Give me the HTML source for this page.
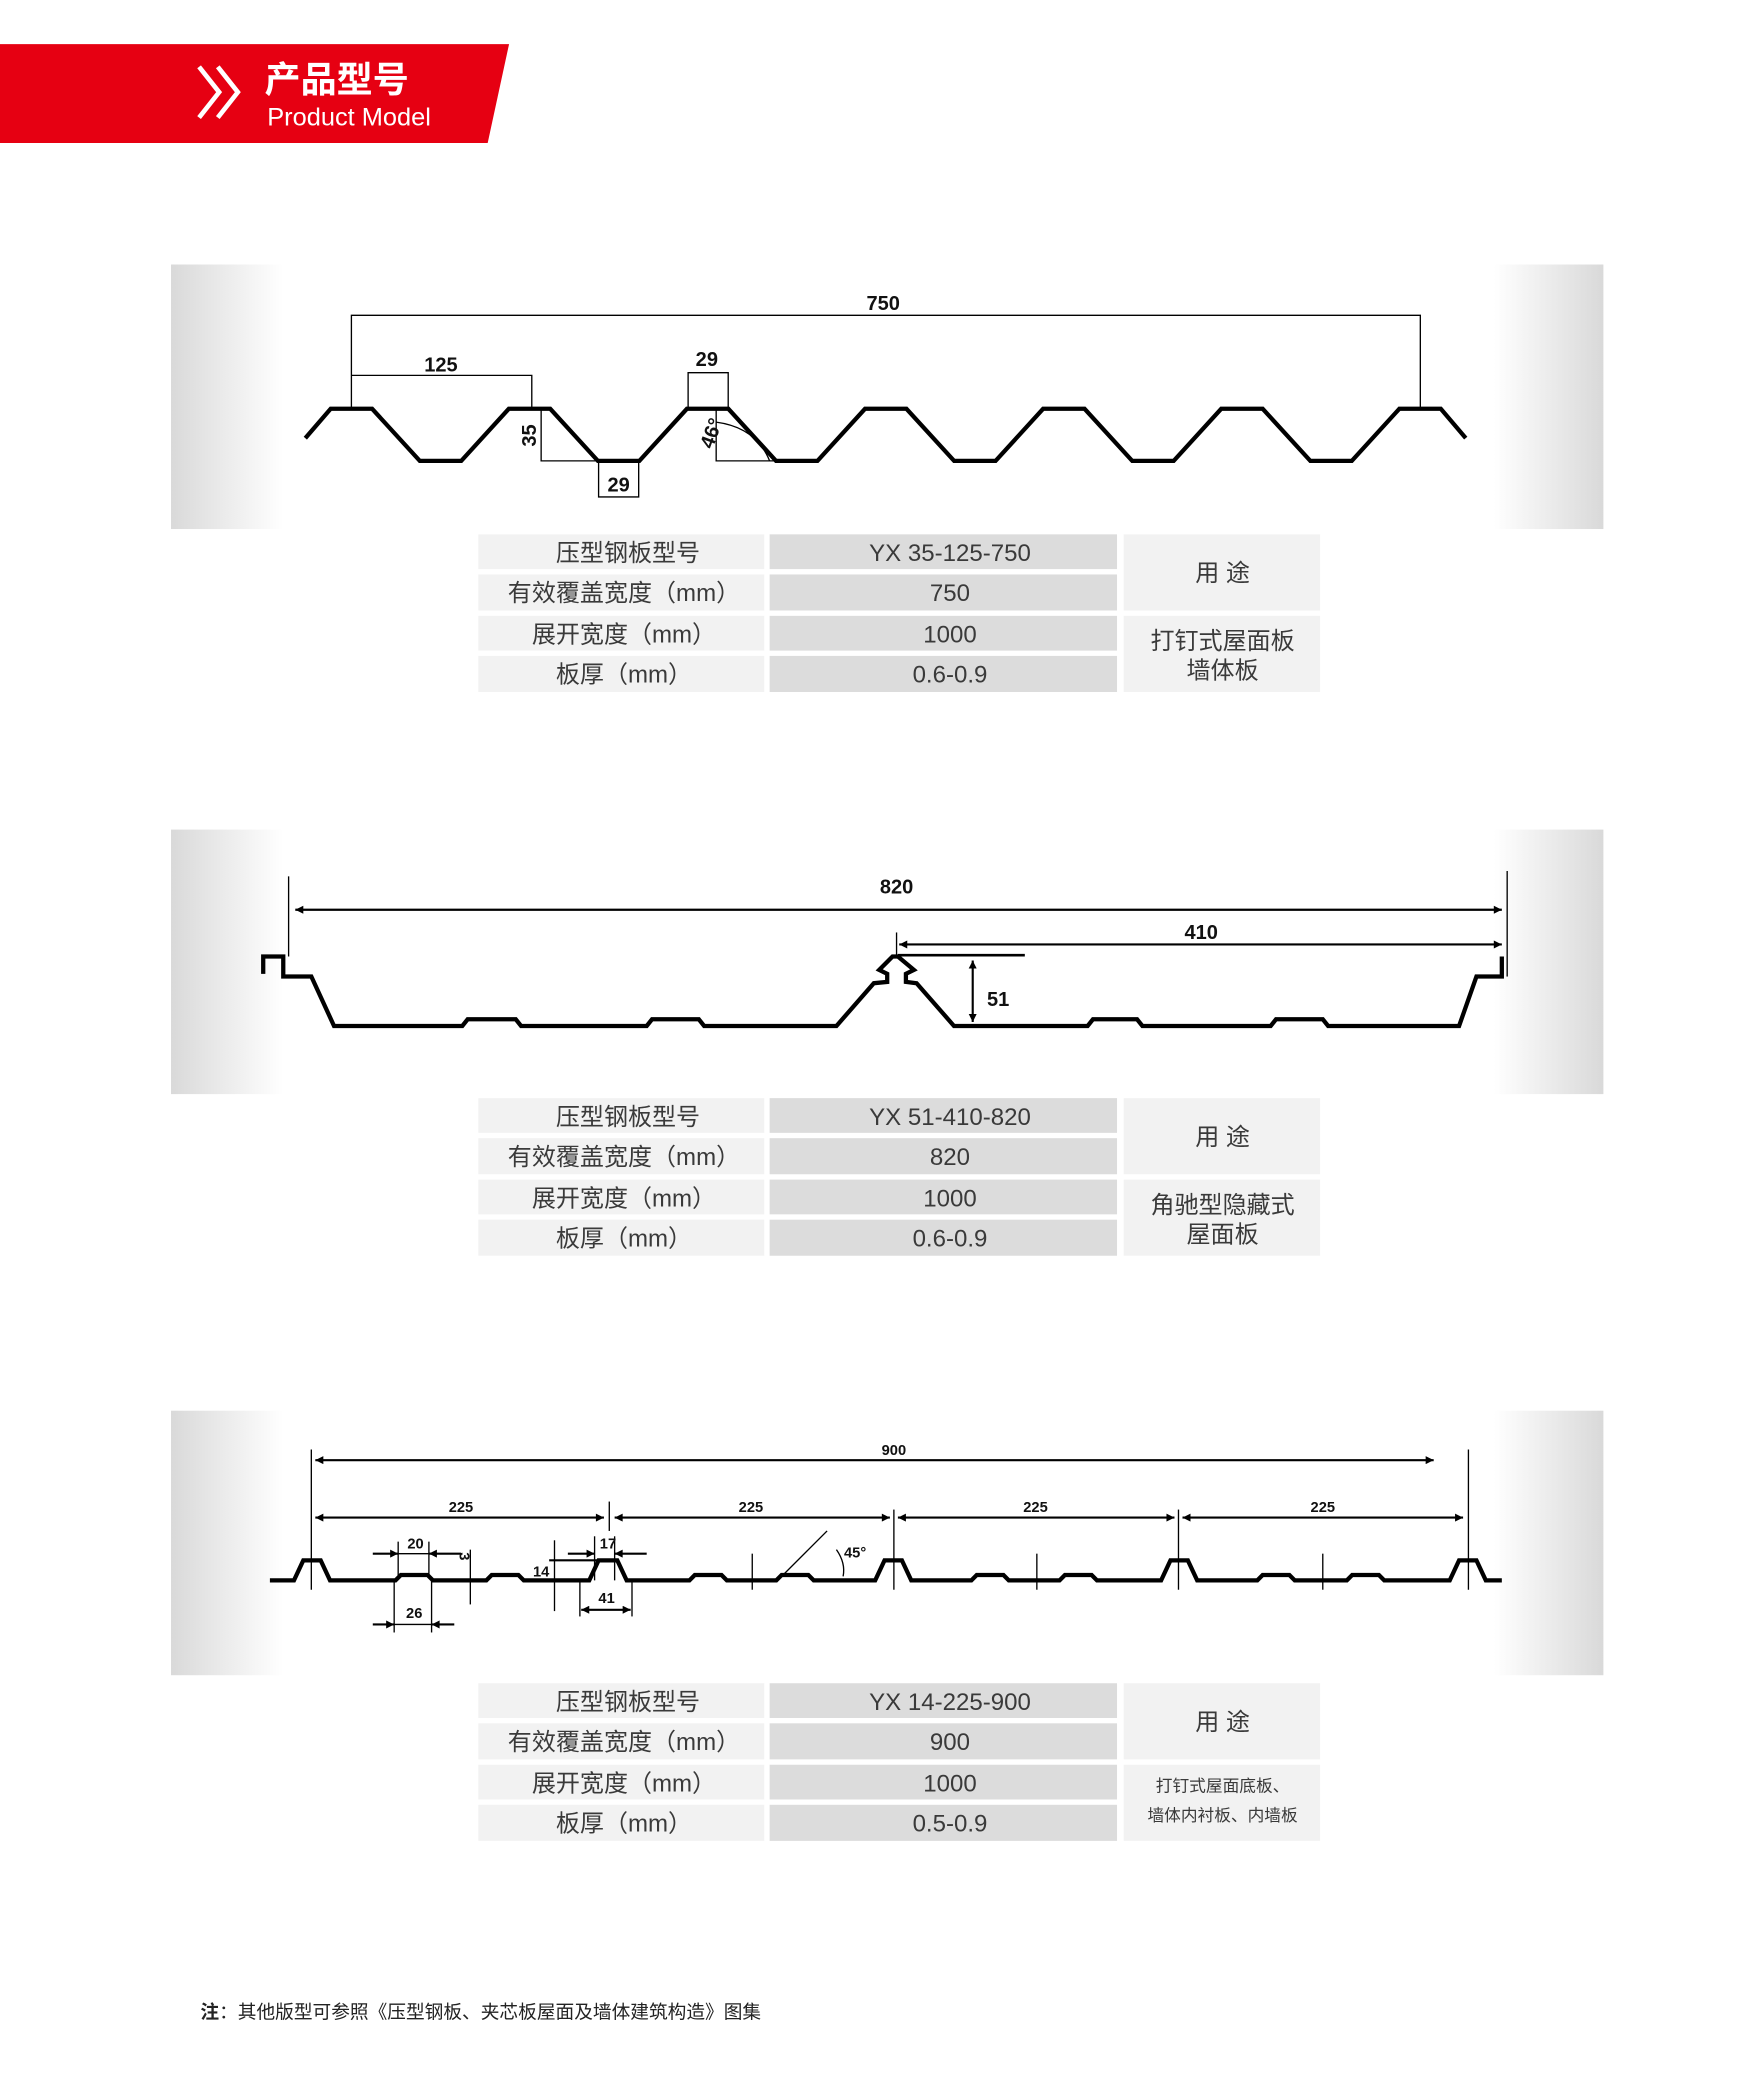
<!DOCTYPE html>
<html><head><meta charset="utf-8"><style>
html,body{margin:0;padding:0;background:#fff;}
svg{display:block;}
text{font-family:"Liberation Sans","Noto Sans CJK SC",sans-serif;}
.t{font-size:18px;fill:#3a3a3a;text-anchor:middle;}
.d{font-size:15px;fill:#111;text-anchor:middle;font-weight:bold;}
.s{font-size:11px;fill:#111;text-anchor:middle;font-weight:bold;}
.p{fill:none;stroke:#000;stroke-width:3.2;stroke-linejoin:miter;}
.l{fill:none;stroke:#000;stroke-width:1;}
.a{fill:none;stroke:#000;stroke-width:1.6;}
</style></head><body>
<svg width="1741" height="2080" viewBox="0 0 1303 1557" preserveAspectRatio="none" xmlns="http://www.w3.org/2000/svg">
<defs>
<marker id="ar" viewBox="0 0 10 10" refX="10" refY="5" markerWidth="7" markerHeight="6" orient="auto-start-reverse" markerUnits="userSpaceOnUse"><path d="M0,0 L10,5 L0,10 z" fill="#000"/></marker>
<linearGradient id="gl" x1="0" x2="1" y1="0" y2="0"><stop offset="0" stop-color="#d9d9d9"/><stop offset="1" stop-color="#fff"/></linearGradient>
<linearGradient id="gr" x1="0" x2="1" y1="0" y2="0"><stop offset="0" stop-color="#fff"/><stop offset="1" stop-color="#d9d9d9"/></linearGradient>
</defs>
<polygon points="0,33 381,33 365,107 0,107" fill="#e60012"/>
<polyline points="149,50 164,69 149,88" fill="none" stroke="#fff" stroke-width="3.5"/>
<polyline points="163,50 178,69 163,88" fill="none" stroke="#fff" stroke-width="3.5"/>
<text x="198" y="69" font-size="27" fill="#fff" font-weight="bold">产品型号</text>
<text x="200" y="94" font-size="19" fill="#fff">Product Model</text>

<g>
<rect x="128" y="198" width="84" height="198" fill="url(#gl)"/><rect x="1118" y="198" width="82" height="198" fill="url(#gr)"/>
<rect x="128" y="621" width="84" height="198" fill="url(#gl)"/><rect x="1118" y="621" width="82" height="198" fill="url(#gr)"/>
<rect x="128" y="1056" width="84" height="198" fill="url(#gl)"/><rect x="1118" y="1056" width="82" height="198" fill="url(#gr)"/>
</g>

<polyline class="p" points="228.5,328 247.5,306 278.5,306 314.2,345 345.2,345 380.8,306 411.8,306 447.5,345 478.5,345 514.1,306 545.1,306 580.8,345 611.8,345 647.4,306 678.4,306 714.1,345 745.1,345 780.7,306 811.7,306 847.4,345 878.4,345 914,306 945,306 980.7,345 1011.7,345 1047.3,306 1078.3,306 1097,328"/>
<polyline class="l" points="263,306 263,236 1063,236 1063,306"/>
<text class="d" x="661" y="232">750</text>
<polyline class="l" points="263,281 398,281 398,306"/>
<text class="d" x="330" y="278">125</text>
<polyline class="l" points="405,306 405,345 448,345"/>
<text class="d" x="0" y="0" transform="translate(401,326) rotate(-90)">35</text>
<polyline class="l" points="448,345 448,372 478,372 478,345"/>
<text class="d" x="463" y="368">29</text>
<polyline class="l" points="515,306 515,279 545,279 545,306"/>
<text class="d" x="529" y="274">29</text>
<polyline class="l" points="536,306 536,345 580,345"/>
<path class="l" d="M536,316 Q566,320 576,345"/>
<text class="d" x="0" y="0" transform="translate(537,326) rotate(-70)">46°</text>

<g>
<rect x="358" y="400" width="214" height="26" fill="#f2f2f2"/><rect x="576" y="400" width="260" height="26" fill="#dcdcdc"/>
<rect x="358" y="430" width="214" height="27" fill="#f2f2f2"/><rect x="576" y="430" width="260" height="27" fill="#dcdcdc"/>
<rect x="358" y="461" width="214" height="26" fill="#f2f2f2"/><rect x="576" y="461" width="260" height="26" fill="#dcdcdc"/>
<rect x="358" y="491" width="214" height="27" fill="#f2f2f2"/><rect x="576" y="491" width="260" height="27" fill="#dcdcdc"/>
<rect x="841" y="400" width="147" height="57" fill="#f2f2f2"/><rect x="841" y="461" width="147" height="57" fill="#f2f2f2"/>
<text class="t" x="470" y="420">压型钢板型号</text><text class="t" x="711" y="420">YX 35-125-750</text>
<text class="t" x="467" y="450">有效覆盖宽度（mm）</text><text class="t" x="711" y="450">750</text>
<text class="t" x="467" y="481">展开宽度（mm）</text><text class="t" x="711" y="481">1000</text>
<text class="t" x="467" y="511">板厚（mm）</text><text class="t" x="711" y="511">0.6-0.9</text>
<text class="t" x="915" y="435">用 途</text>
<text class="t" x="915" y="486">打钉式屋面板</text><text class="t" x="915" y="508">墙体板</text>
</g>

<polyline class="p" points="197,729 197,716 212,716 212,731 233,731 250,768 346,768 350,763 386,763 390,768 484,768 488,763 523,763 527,768 626,768 654,736 664,735 664,729 658,726 668,716 672,716 684,726 678,729 678,735 686,736 714,768 814,768 818,763 851,763 855,768 951,768 955,763 990,763 994,768 1092,768 1105,731 1124,731 1124,716"/>
<line class="l" x1="216" y1="656" x2="216" y2="716"/>
<line class="l" x1="1128" y1="652" x2="1128" y2="731" stroke-width="1.5"/>
<line class="a" x1="221" y1="681" x2="1124" y2="681" marker-start="url(#ar)" marker-end="url(#ar)"/>
<text class="d" x="671" y="669">820</text>
<line class="a" x1="673" y1="707" x2="1124" y2="707" marker-start="url(#ar)" marker-end="url(#ar)"/>
<line class="l" x1="671" y1="698" x2="671" y2="716"/>
<text class="d" x="899" y="703">410</text>
<line x1="672" y1="715" x2="767" y2="715" stroke="#000" stroke-width="2"/>
<line class="a" x1="728" y1="719" x2="728" y2="765" marker-start="url(#ar)" marker-end="url(#ar)"/>
<text class="d" x="747" y="753">51</text>

<g transform="translate(0,422)">
<rect x="358" y="400" width="214" height="26" fill="#f2f2f2"/><rect x="576" y="400" width="260" height="26" fill="#dcdcdc"/>
<rect x="358" y="430" width="214" height="27" fill="#f2f2f2"/><rect x="576" y="430" width="260" height="27" fill="#dcdcdc"/>
<rect x="358" y="461" width="214" height="26" fill="#f2f2f2"/><rect x="576" y="461" width="260" height="26" fill="#dcdcdc"/>
<rect x="358" y="491" width="214" height="27" fill="#f2f2f2"/><rect x="576" y="491" width="260" height="27" fill="#dcdcdc"/>
<rect x="841" y="400" width="147" height="57" fill="#f2f2f2"/><rect x="841" y="461" width="147" height="57" fill="#f2f2f2"/>
<text class="t" x="470" y="420">压型钢板型号</text><text class="t" x="711" y="420">YX 51-410-820</text>
<text class="t" x="467" y="450">有效覆盖宽度（mm）</text><text class="t" x="711" y="450">820</text>
<text class="t" x="467" y="481">展开宽度（mm）</text><text class="t" x="711" y="481">1000</text>
<text class="t" x="467" y="511">板厚（mm）</text><text class="t" x="711" y="511">0.6-0.9</text>
<text class="t" x="915" y="435">用 途</text>
<text class="t" x="915" y="486">角驰型隐藏式</text><text class="t" x="915" y="508">屋面板</text>
</g>

<polyline class="p" stroke-width="2.6" points="202,1183 220,1183 227,1168 240,1168 247,1183 296,1183 300,1179 320,1179 324,1183 364,1183 368,1179 388,1179 392,1183 441,1183 448,1168 462,1168 469,1183 516,1183 520,1179 540,1179 544,1183 581,1183 585,1179 605,1179 609,1183 655,1183 662,1168 675,1168 682,1183 727,1183 731,1179 751,1179 755,1183 793,1183 797,1179 817,1179 821,1183 869,1183 876,1168 889,1168 896,1183 941,1183 945,1179 965,1179 969,1183 1008,1183 1012,1179 1032,1179 1036,1183 1085,1183 1092,1168 1105,1168 1112,1183 1124,1183"/>
<line class="l" x1="233" y1="1085" x2="233" y2="1190"/>
<line class="l" x1="1099" y1="1085" x2="1099" y2="1190"/>
<line class="a" x1="236" y1="1093" x2="1073" y2="1093" marker-start="url(#ar)" marker-end="url(#ar)"/>
<text class="s" x="669" y="1089">900</text>
<line class="l" x1="456" y1="1124" x2="456" y2="1146"/>
<line class="l" x1="669" y1="1130" x2="669" y2="1190"/>
<line class="l" x1="882" y1="1130" x2="882" y2="1190"/>
<line class="a" x1="236" y1="1136" x2="452" y2="1136" marker-start="url(#ar)" marker-end="url(#ar)"/>
<line class="a" x1="460" y1="1136" x2="666" y2="1136" marker-start="url(#ar)" marker-end="url(#ar)"/>
<line class="a" x1="672" y1="1136" x2="879" y2="1136" marker-start="url(#ar)" marker-end="url(#ar)"/>
<line class="a" x1="885" y1="1136" x2="1095" y2="1136" marker-start="url(#ar)" marker-end="url(#ar)"/>
<text class="s" x="345" y="1132">225</text><text class="s" x="562" y="1132">225</text><text class="s" x="775" y="1132">225</text><text class="s" x="990" y="1132">225</text>
<line class="l" x1="563" y1="1163" x2="563" y2="1190"/>
<line class="l" x1="776" y1="1163" x2="776" y2="1190"/>
<line class="l" x1="990" y1="1163" x2="990" y2="1190"/>
<line class="l" x1="298" y1="1154" x2="298" y2="1180"/><line class="l" x1="321" y1="1154" x2="321" y2="1180"/>
<line class="a" x1="279" y1="1163" x2="298" y2="1163" marker-end="url(#ar)"/><line class="a" x1="345" y1="1163" x2="321" y2="1163" marker-end="url(#ar)"/>
<line class="l" x1="298" y1="1163" x2="321" y2="1163"/>
<text class="s" x="311" y="1159">20</text>
<text class="s" x="0" y="0" transform="translate(344,1165) rotate(90)">3</text>
<line class="l" x1="352" y1="1160" x2="352" y2="1201"/>
<line class="l" x1="295" y1="1183" x2="295" y2="1222"/><line class="l" x1="323" y1="1183" x2="323" y2="1222"/>
<line class="a" x1="279" y1="1216" x2="295" y2="1216" marker-end="url(#ar)"/><line class="a" x1="340" y1="1216" x2="323" y2="1216" marker-end="url(#ar)"/>
<line class="l" x1="295" y1="1216" x2="323" y2="1216"/>
<text class="s" x="310" y="1211">26</text>
<line class="l" x1="415" y1="1153" x2="415" y2="1206"/>
<line x1="411" y1="1168" x2="453" y2="1168" stroke="#000" stroke-width="1.6"/>
<text class="s" x="405" y="1180">14</text>
<line class="l" x1="445" y1="1150" x2="445" y2="1183"/><line class="l" x1="460" y1="1150" x2="460" y2="1183"/>
<line class="a" x1="425" y1="1163" x2="445" y2="1163" marker-end="url(#ar)"/><line class="a" x1="484" y1="1163" x2="460" y2="1163" marker-end="url(#ar)"/>
<text class="s" x="455" y="1159">17</text>
<line class="l" x1="434" y1="1183" x2="434" y2="1210"/><line class="l" x1="473" y1="1183" x2="473" y2="1210"/>
<line class="a" x1="435" y1="1205" x2="472" y2="1205" marker-start="url(#ar)" marker-end="url(#ar)"/>
<text class="s" x="454" y="1200">41</text>
<line class="l" x1="585" y1="1180" x2="619" y2="1146"/>
<path class="l" d="M626,1160 Q633,1170 631,1180"/>
<text class="s" x="640" y="1166">45°</text>

<g transform="translate(0,860)">
<rect x="358" y="400" width="214" height="26" fill="#f2f2f2"/><rect x="576" y="400" width="260" height="26" fill="#dcdcdc"/>
<rect x="358" y="430" width="214" height="27" fill="#f2f2f2"/><rect x="576" y="430" width="260" height="27" fill="#dcdcdc"/>
<rect x="358" y="461" width="214" height="26" fill="#f2f2f2"/><rect x="576" y="461" width="260" height="26" fill="#dcdcdc"/>
<rect x="358" y="491" width="214" height="27" fill="#f2f2f2"/><rect x="576" y="491" width="260" height="27" fill="#dcdcdc"/>
<rect x="841" y="400" width="147" height="57" fill="#f2f2f2"/><rect x="841" y="461" width="147" height="57" fill="#f2f2f2"/>
<text class="t" x="470" y="420">压型钢板型号</text><text class="t" x="711" y="420">YX 14-225-900</text>
<text class="t" x="467" y="450">有效覆盖宽度（mm）</text><text class="t" x="711" y="450">900</text>
<text class="t" x="467" y="481">展开宽度（mm）</text><text class="t" x="711" y="481">1000</text>
<text class="t" x="467" y="511">板厚（mm）</text><text class="t" x="711" y="511">0.5-0.9</text>
<text class="t" x="915" y="435">用 途</text>
<text class="t" x="915" y="481" style="font-size:12.5px">打钉式屋面底板、</text><text class="t" x="915" y="503" style="font-size:12.5px">墙体内衬板、内墙板</text>
</g>

<text x="150" y="1511" font-size="14" fill="#222"><tspan font-weight="bold">注</tspan>：其他版型可参照《压型钢板、夹芯板屋面及墙体建筑构造》图集</text>
</svg>
</body></html>
